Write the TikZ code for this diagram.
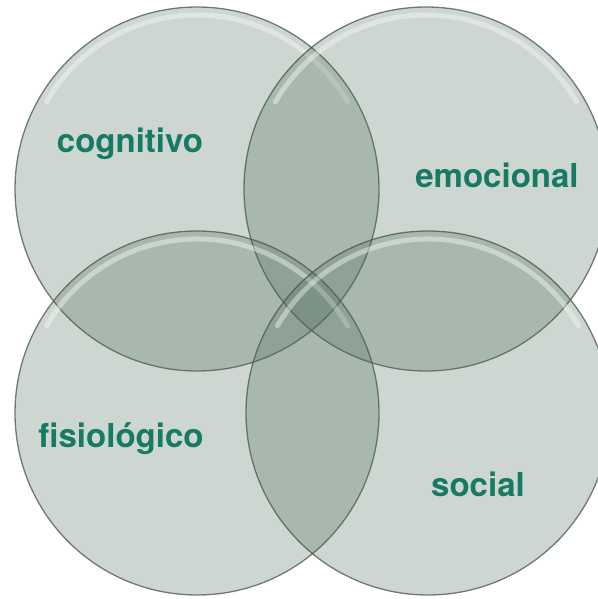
\documentclass[tikz,border=0pt]{standalone}
\usepackage{fontspec}
\setmainfont{TeX Gyre Heros}
\definecolor{bubble}{RGB}{75,106,86}
\definecolor{rim}{RGB}{70,85,78}
\definecolor{label}{RGB}{22,122,100}

\begin{document}
\begin{tikzpicture}[x=1pt,y=-1pt,
  bubble/.style={fill=bubble,fill opacity=0.28,draw=rim,draw opacity=0.75,line width=1.3pt},
  gloss/.style={draw=white,draw opacity=0.4,line width=5pt,line cap=round},
  word/.style={text=label,font=\fontsize{33}{38}\selectfont\bfseries,anchor=base,inner sep=0pt}]

\useasboundingbox (0,0) rectangle (597,599);

%%%%%%%%%%%%%%%%%%%%%%%%%%%%%%%%%%%%%%

\foreach \cx/\cy in {197/189, 426/189, 197/413, 428/413} {
  \draw[bubble] (\cx,\cy) circle[radius=182];
  \draw[gloss] ([shift={(210:174)}]\cx,\cy) arc[start angle=210,end angle=330,radius=174];
}

%%%%%%%%%%%%%%%%%%%%%%%%%%%%%%%%%%%%%%

\node[word] (cog) at (130,152) {cognitivo};
\node[word] (emo) at (497,187) {emocional};
\node[word] (fis) at (121,447) {fisiológico};
\node[word] (soc) at (478,496) {social};

\end{tikzpicture}
\end{document}
